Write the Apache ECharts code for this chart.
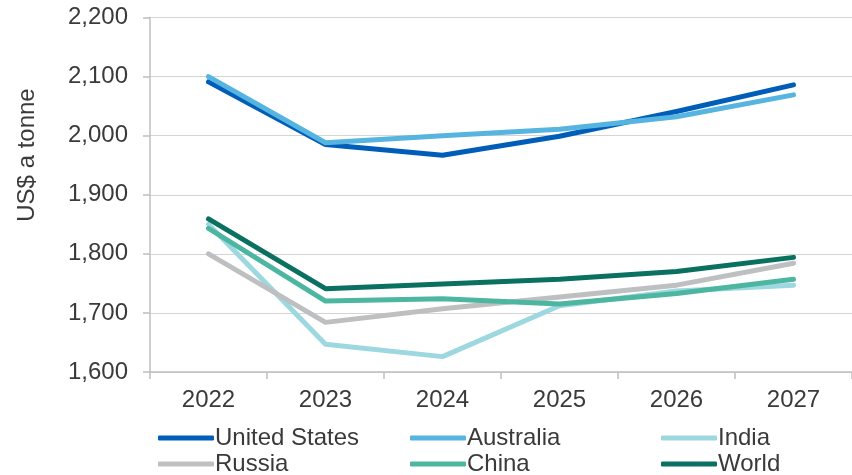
<!DOCTYPE html>
<html>
<head>
<meta charset="utf-8">
<script src="https://cdn.jsdelivr.net/npm/echarts@6/dist/echarts.min.js"></script>
<style>html,body{margin:0;padding:0;background:#fff}#c{width:852px;height:475px}</style>
</head>
<body>
<div id="c"></div>
<script>
var years = ['2022','2023','2024','2025','2026','2027'];
var unitedStates = [2091, 1985, 1967, 1999, 2041, 2086];
var australia    = [2100, 1988, 2000, 2011, 2032, 2069];
var india        = [1850, 1647, 1626, 1712, 1737, 1747];
var russia       = [1800, 1684, 1707, 1727, 1747, 1784];
var china        = [1843, 1720, 1724, 1715, 1733, 1757];
var world        = [1859, 1741, 1749, 1757, 1770, 1794];
var yTicks = [1600, 2200, 100];
var names = ['United States','Australia','India','Russia','China','World'];
var colors = ['#005EB8','#56B4E0','#9DD8E0','#BDBFC1','#4DB6A0','#0A7060'];
var dataSets = [unitedStates, australia, india, russia, china, world];

var textColor = '#3a3a3a';
var font = 'Liberation Sans, Arial, sans-serif';

var chart = echarts.init(document.getElementById('c'));
var series = names.map(function(n, i){
  return {
    name: n, type: 'line', data: dataSets[i], symbol: 'none',
    lineStyle: {color: colors[i], width: 5, cap: 'round', join: 'round'},
    itemStyle: {color: colors[i]}
  };
});
var colLeft = [153, 405, 656];
var rowTop = [421, 447];
var legends = names.map(function(n, i){
  return {
    left: colLeft[i % 3], top: rowTop[Math.floor(i / 3)], data: [n],
    icon: 'roundRect', itemWidth: 56, itemHeight: 5,
    textStyle: {color: textColor, fontSize: 24, fontFamily: font, padding: [0,0,0,-4]},
    selectedMode: false
  };
});
chart.setOption({
  animation: false,
  grid: {left: 150, top: 17.5, width: 705, bottom: 103, containLabel: false},
  xAxis: {
    type: 'category', data: years, boundaryGap: true,
    axisLine: {lineStyle: {color: '#BFBFBF', width: 1.5}},
    axisTick: {show: true, length: 7, lineStyle: {color: '#BFBFBF', width: 1.5}},
    axisLabel: {color: textColor, fontSize: 24, fontFamily: font, margin: 16}
  },
  yAxis: {
    type: 'value', min: yTicks[0], max: yTicks[1], interval: yTicks[2],
    axisLine: {show: true, lineStyle: {color: '#BFBFBF', width: 1.5}},
    axisTick: {show: true, length: 7, lineStyle: {color: '#BFBFBF', width: 1.5}},
    splitLine: {lineStyle: {color: '#D4D4D4', width: 1.2}},
    axisLabel: {color: textColor, fontSize: 24, fontFamily: font, margin: 22,
      formatter: function(v){ return v.toLocaleString('en-US'); }}
  },
  legend: legends,
  graphic: [{
    type: 'text', x: 27, y: 155, rotation: Math.PI/2,
    style: {text: 'US$ a tonne', fill: textColor, fontSize: 24, fontFamily: font,
      textAlign: 'center', textVerticalAlign: 'middle'}
  }],
  series: series
});
</script>
</body>
</html>
